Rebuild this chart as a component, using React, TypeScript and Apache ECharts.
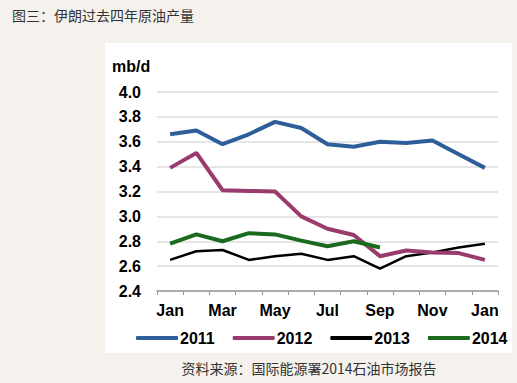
import React, { useEffect, useRef } from "react";
import * as echarts from "echarts";

const months = ["Jan", "Feb", "Mar", "Apr", "May", "Jun", "Jul", "Aug", "Sep", "Oct", "Nov", "Dec", "Jan"];
const yTicks = [2.4, 4.0, 0.2]; // min, max, interval
const s2011 = [3.66, 3.69, 3.58, 3.66, 3.76, 3.71, 3.58, 3.56, 3.6, 3.59, 3.61, 3.5, 3.39];
const s2012 = [3.39, 3.51, 3.21, 3.205, 3.2, 3.0, 2.9, 2.85, 2.68, 2.725, 2.71, 2.705, 2.65];
const s2013 = [2.65, 2.72, 2.73, 2.65, 2.68, 2.7, 2.65, 2.68, 2.58, 2.68, 2.71, 2.75, 2.78];
const s2014 = [2.78, 2.855, 2.8, 2.865, 2.855, 2.805, 2.76, 2.8, 2.75];
const seriesNames = ["2011", "2012", "2013", "2014"];
const colors = ["#2d5e9a", "#9a3b6e", "#000000", "#1b6a1e"];
const title = "图三：伊朗过去四年原油产量";
const footer = "资料来源：国际能源署2014石油市场报告";
const unit = "mb/d";

export default function App() {
  const ref = useRef<HTMLDivElement>(null);
  useEffect(() => {
    const chart = echarts.init(ref.current!, null, { renderer: "svg" });
    const data = [s2011, s2012, s2013, s2014];
    const widths = [4, 4, 2.5, 4];
    const font = "Liberation Sans, Arial, sans-serif";
    chart.setOption({
      animation: false,
      backgroundColor: "#f5f2ee",
      graphic: [
        { type: "rect", shape: { x: 105, y: 43, width: 407, height: 310 }, style: { fill: "#ffffff" }, z: -10 },
        { type: "text", x: 12, y: 15, style: { text: title, fill: "#333333", font: "14px 'Noto Sans CJK SC', sans-serif", textVerticalAlign: "middle" } },
        { type: "text", x: 309, y: 368, style: { text: footer, fill: "#333333", font: "14px 'Noto Sans CJK SC', sans-serif", textAlign: "center", textVerticalAlign: "middle" } },
        { type: "text", x: 112, y: 66, style: { text: unit, fill: "#000", font: "bold 16px " + font, textVerticalAlign: "middle" } },
      ],
      legend: {
        data: seriesNames,
        left: 131,
        top: 325,
        itemWidth: 42,
        itemHeight: 4,
        itemGap: 18,
        icon: "roundRect",
        textStyle: { fontFamily: font, fontWeight: "bold", fontSize: 16, color: "#000", padding: [0, 0, 0, -3] },
      },
      grid: { left: 157, right: 19, top: 92, bottom: 92 },
      xAxis: {
        type: "category",
        data: months,
        boundaryGap: true,
        axisLine: { lineStyle: { color: "#999", width: 1.5 } },
        axisTick: { show: true, length: 4, lineStyle: { color: "#999" }, interval: 0 },
        axisLabel: { interval: 1, margin: 11, fontFamily: font, fontWeight: "bold", fontSize: 16, color: "#000" },
        splitLine: { show: false },
      },
      yAxis: {
        type: "value",
        min: yTicks[0],
        max: yTicks[1],
        interval: yTicks[2],
        axisLine: { show: false },
        axisTick: { show: false },
        axisLabel: { margin: 16, fontFamily: font, fontWeight: "bold", fontSize: 16, color: "#000", formatter: (v: number) => v.toFixed(1) },
        splitLine: { lineStyle: { color: "#dcdcdc", width: 1.5 } },
      },
      series: data.map((d, i) => ({
        name: seriesNames[i],
        type: "line",
        data: d,
        symbol: "none",
        color: colors[i],
        lineStyle: { color: colors[i], width: widths[i] },
        z: i === 2 ? 2 : 3,
      })),
    });
    return () => chart.dispose();
  }, []);
  return <div ref={ref} style={{ position: "fixed", left: 0, top: 0, width: 517, height: 383 }} />;
}
